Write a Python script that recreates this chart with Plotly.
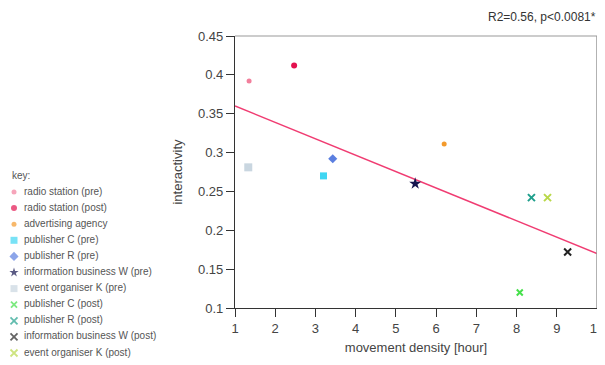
import plotly.graph_objects as go

# ---- data ----
names = ["radio station (pre)", "radio station (post)", "advertising agency",
         "publisher C (pre)", "publisher R (pre)", "information business W (pre)",
         "event organiser K (pre)", "publisher C (post)", "publisher R (post)",
         "information business W (post)", "event organiser K (post)"]
movement_density = [1.35, 2.47, 6.2, 3.2, 3.43, 5.48, 1.33, 8.08, 8.37, 9.27, 8.77]
interactivity = [0.392, 0.412, 0.311, 0.27, 0.292, 0.26, 0.281, 0.12, 0.242, 0.172, 0.242]
fit_x = [1, 10]
fit_y = [0.36, 0.17]
x_ticks = [1, 2, 3, 4, 5, 6, 7, 8, 9, 10]
y_ticks = [0.1, 0.15, 0.2, 0.25, 0.3, 0.35, 0.4, 0.45]
y_tick_labels = ["0.1", "0.15", "0.2", "0.25", "0.3", "0.35", "0.4", "0.45"]
stats_label = "R2=0.56, p<0.0081*"

# ---- styles ----
colors = ["#f27f9c", "#e3124f", "#f39a2c", "#3fd6f2", "#5b7fe0", "#14144e",
          "#c9d6e0", "#45e04a", "#1f9f8c", "#222222", "#b9d84a"]
symbols = ["circle", "circle", "circle", "square", "diamond", "star",
           "square", "x-thin-open", "x-thin-open", "x-thin-open", "x-thin-open"]
sizes = [5, 6, 5, 7, 7, 9, 8, 6, 7, 7, 7]

# page body has an 8px margin: work in figure pixels = screen pixels - 8
OFF = 8
W, H = 605 - OFF, 365 - OFF
px_l, px_r, px_t, px_b = 235 - OFF, 597 - OFF, 36 - OFF, 308 - OFF

fig = go.Figure()

fig.add_trace(go.Scatter(x=fit_x, y=fit_y, mode="lines",
                         line=dict(color="#f03c72", width=1.5),
                         showlegend=False, hoverinfo="skip"))

for i, n in enumerate(names):
    open_sym = symbols[i].endswith("open")
    fig.add_trace(go.Scatter(
        x=[movement_density[i]], y=[interactivity[i]], mode="markers", name=n,
        marker=dict(color=colors[i], symbol=symbols[i], size=sizes[i],
                    line=dict(color=colors[i], width=2 if open_sym else 0)),
        showlegend=False, cliponaxis=False))

# custom legend on a hidden axis (pixel coordinates)
leg_y = [192 - OFF + k * 16.1 for k in range(len(names))]
fig.add_trace(go.Scatter(
    x=[14 - OFF] * len(names), y=leg_y, mode="markers",
    marker=dict(color=colors, symbol=symbols,
                size=[min(s, 7) for s in sizes],
                line=dict(color=colors, width=[1.8 if s.endswith("open") else 0 for s in symbols])),
    xaxis="x2", yaxis="y2", showlegend=False, hoverinfo="skip", cliponaxis=False))
fig.add_trace(go.Scatter(
    x=[24 - OFF] * len(names), y=leg_y, mode="text", text=names,
    textposition="middle right",
    textfont=dict(family="Liberation Sans, Arial", size=10, color="#555555"),
    xaxis="x2", yaxis="y2", showlegend=False, hoverinfo="skip", cliponaxis=False))

axis_font = dict(family="Liberation Sans, Arial", size=13, color="#444444")

fig.update_layout(
    width=W, height=H,
    margin=dict(l=0, r=0, t=0, b=0, autoexpand=False),
    paper_bgcolor="white", plot_bgcolor="white",
    showlegend=False,
    xaxis=dict(domain=[px_l / W, px_r / W], range=[1, 10], tickvals=x_ticks,
               automargin=False, ticklabeloverflow="allow",
               showgrid=False, zeroline=False, showline=True, linecolor="#333333",
               linewidth=1.3, ticks="outside", ticklen=8, tickcolor="#333333",
               tickfont=axis_font,
               title=dict(text="movement density [hour]", font=axis_font, standoff=8)),
    yaxis=dict(domain=[1 - px_b / H, 1 - px_t / H], range=[0.1, 0.45],
               tickvals=y_ticks, ticktext=y_tick_labels, automargin=False,
               showgrid=False, zeroline=False, showline=True, linecolor="#333333",
               linewidth=1.3, ticks="outside", ticklen=8, tickcolor="#333333",
               tickfont=axis_font,
               title=dict(text="interactivity", font=axis_font, standoff=12)),
    xaxis2=dict(domain=[0, 0.37], range=[0, 0.37 * W], visible=False, anchor="y2",
                automargin=False),
    yaxis2=dict(domain=[0, 1], range=[H, 0], visible=False, anchor="x2",
                automargin=False),
    shapes=[
        dict(type="line", xref="paper", yref="paper", x0=px_l / W, x1=px_r / W,
             y0=1 - px_t / H, y1=1 - px_t / H, line=dict(color="#999999", width=1)),
        dict(type="line", xref="paper", yref="paper", x0=px_r / W, x1=px_r / W,
             y0=1 - px_t / H, y1=1 - px_b / H, line=dict(color="#999999", width=1.5)),
    ],
    annotations=[
        dict(text=stats_label, xref="paper", yref="paper", x=(598 - OFF) / W, y=1 - (17 - OFF) / H,
             xanchor="right", yanchor="middle", showarrow=False,
             font=dict(family="Liberation Sans, Arial", size=12, color="#333333")),
        dict(text="key:", xref="paper", yref="paper", x=(10 - OFF) / W, y=1 - (175 - OFF) / H,
             xanchor="left", yanchor="middle", showarrow=False,
             font=dict(family="Liberation Sans, Arial", size=10, color="#555555")),
    ],
)

fig.write_html("out.html")
